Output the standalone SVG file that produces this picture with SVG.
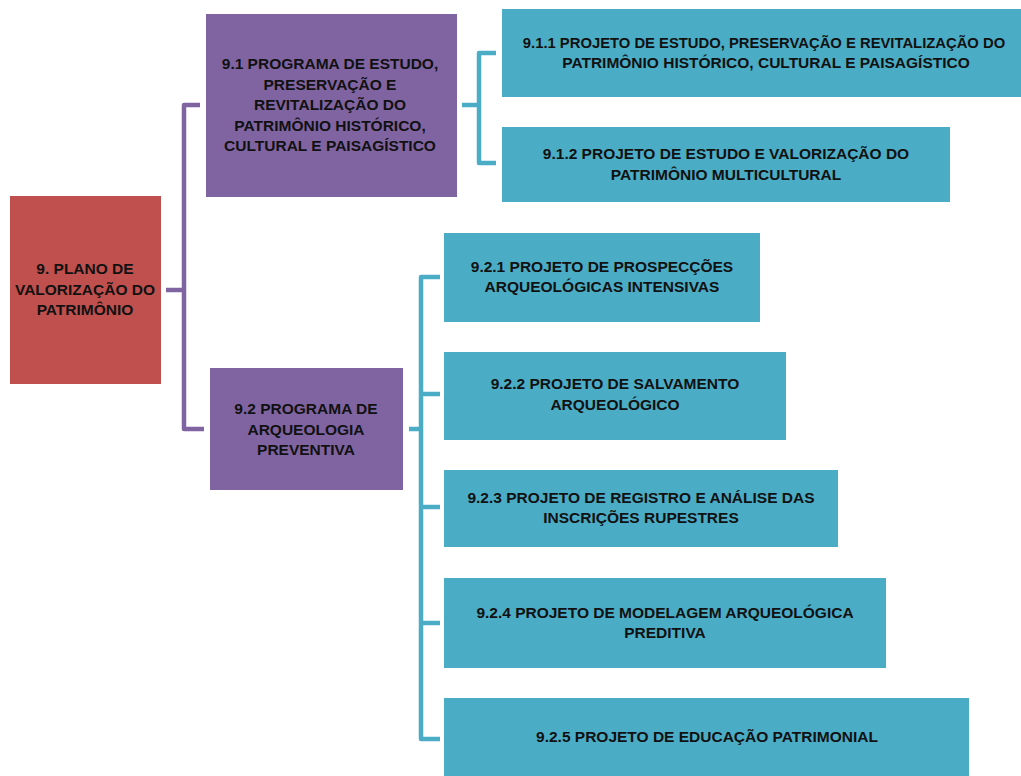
<svg xmlns="http://www.w3.org/2000/svg" width="1021" height="776" viewBox="0 0 1021 776">
<style>
.red{fill:#C0504D}
.pur{fill:#8064A2}
.blu{fill:#4BACC6}
text{font-family:"Liberation Sans",Arial,sans-serif;font-weight:bold;font-size:15.5px;fill:#111111;text-anchor:middle}
.cp{fill:none;stroke:#8064A2;stroke-width:4.5;stroke-linejoin:round}
.cb{fill:none;stroke:#4BACC6;stroke-width:4.5;stroke-linejoin:round}
</style>
<rect width="1021" height="776" fill="#FFFFFF"/>
<g id="connectors">
<path class="cp" d="M166,290 H184 M200,105 H184 V429 H204"/>
<path class="cb" d="M462,105 H479 M496,53 H479 V163 H496"/>
<path class="cb" d="M409,429 H421 M440,277 H421 V739 H440 M421,394 H440 M421,507 H440 M421,623 H440"/>
</g>
<g id="n9">
<rect class="red" x="10" y="196" width="151" height="188"/>
<text x="85" y="274">9. PLANO DE</text>
<text x="85" y="294.5">VALORIZAÇÃO DO</text>
<text x="85" y="315">PATRIMÔNIO</text>
</g>
<g id="n9_1">
<rect class="pur" x="206" y="14" width="251" height="183"/>
<text x="330" y="69">9.1 PROGRAMA DE ESTUDO,</text>
<text x="330" y="89.5">PRESERVAÇÃO E</text>
<text x="330" y="110">REVITALIZAÇÃO DO</text>
<text x="330" y="130.5">PATRIMÔNIO HISTÓRICO,</text>
<text x="330" y="151">CULTURAL E PAISAGÍSTICO</text>
</g>
<g id="n9_2">
<rect class="pur" x="210" y="368" width="193" height="122"/>
<text x="306" y="414">9.2 PROGRAMA DE</text>
<text x="306" y="434.5">ARQUEOLOGIA</text>
<text x="306" y="455">PREVENTIVA</text>
</g>
<g id="n9_1_1">
<rect class="blu" x="502" y="9" width="519" height="88"/>
<text x="764" y="48" style="font-size:14.8px">9.1.1 PROJETO DE ESTUDO, PRESERVAÇÃO E REVITALIZAÇÃO DO</text>
<text x="766" y="68">PATRIMÔNIO HISTÓRICO, CULTURAL E PAISAGÍSTICO</text>
</g>
<g id="n9_1_2">
<rect class="blu" x="502" y="127" width="448" height="75"/>
<text x="726" y="159">9.1.2 PROJETO DE ESTUDO E VALORIZAÇÃO DO</text>
<text x="726" y="180">PATRIMÔNIO MULTICULTURAL</text>
</g>
<g id="n9_2_1">
<rect class="blu" x="444" y="233" width="316" height="89"/>
<text x="602" y="272">9.2.1 PROJETO DE PROSPECÇÕES</text>
<text x="602" y="292">ARQUEOLÓGICAS INTENSIVAS</text>
</g>
<g id="n9_2_2">
<rect class="blu" x="444" y="352" width="342" height="88"/>
<text x="615" y="389">9.2.2 PROJETO DE SALVAMENTO</text>
<text x="615" y="410">ARQUEOLÓGICO</text>
</g>
<g id="n9_2_3">
<rect class="blu" x="444" y="470" width="394" height="77"/>
<text x="641" y="503">9.2.3 PROJETO DE REGISTRO E ANÁLISE DAS</text>
<text x="641" y="523">INSCRIÇÕES RUPESTRES</text>
</g>
<g id="n9_2_4">
<rect class="blu" x="444" y="578" width="442" height="90"/>
<text x="665" y="618">9.2.4 PROJETO DE MODELAGEM ARQUEOLÓGICA</text>
<text x="665" y="638">PREDITIVA</text>
</g>
<g id="n9_2_5">
<rect class="blu" x="444" y="698" width="525" height="78"/>
<text x="707" y="742">9.2.5 PROJETO DE EDUCAÇÃO PATRIMONIAL</text>
</g>
</svg>
